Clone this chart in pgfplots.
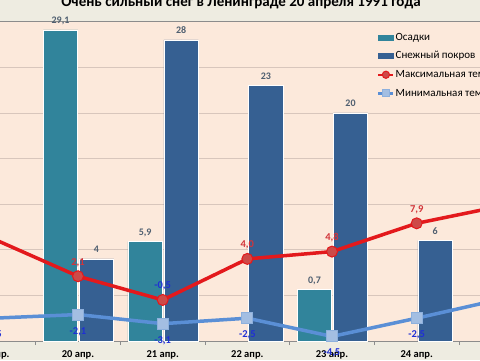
\documentclass[border=0pt]{standalone}
\usepackage{pgfplots}
\pgfplotsset{compat=1.18}
\usepackage{pgfplotstable}
\usepackage{fontspec}
\setmainfont{Carlito}
\definecolor{bgchart}{HTML}{EEECE1}
\definecolor{bgplot}{HTML}{FCE9DB}
\definecolor{gridc}{HTML}{D8C6BC}
\definecolor{axisc}{HTML}{8C8C8C}
\definecolor{osadc}{HTML}{31849B}
\definecolor{snowc}{HTML}{366092}
\definecolor{redline}{HTML}{E3191C}
\definecolor{redmark}{HTML}{CD4A48}
\definecolor{blueline}{HTML}{5A8FD6}
\definecolor{bluemark}{HTML}{A3BEE2}
\definecolor{bluemarkd}{HTML}{8DB0DD}
\definecolor{barlab}{HTML}{4F5F70}
\definecolor{redlab}{HTML}{D2353A}
\definecolor{bluelab}{HTML}{1F2FD6}

\pgfplotsset{
  linelegend/.style={legend image code/.code={\draw[##1, line width=2.5pt, mark size=3.6pt, mark repeat=2, mark phase=2] plot coordinates {(0pt,0pt) (7.5pt,0pt) (15pt,0pt)};}},
  barlegend/.style={legend image code/.code={\fill[#1] (0pt,-2.5pt) rectangle (15pt,2.5pt);}},
  barlabels/.style={forget plot, only marks, mark=*, mark size=0pt,
    mark options={draw=none, fill=none},
    point meta=\thisrow{v},
    nodes near coords={\pgfmathprintnumber[use comma,assume math mode=true]{\pgfplotspointmeta}},
    every node near coord/.append style={font=\bfseries\fontsize{10}{12}\selectfont, color=barlab, anchor=base, yshift=6pt}},
  templabels/.style={point meta=\thisrow{v},
    nodes near coords={\pgfmathfloatparsenumber{\pgfplotspointmeta}\pgfmathfloatgetflagstomacro\pgfmathresult\metaflag\ifnum\metaflag=2 \color{bluelab}\fi\pgfmathprintnumber[use comma,fixed,fixed zerofill,precision=1,assume math mode=true]{\pgfplotspointmeta}}},
}

% x: 0 = 19 апр., 1 = 20 апр., ..., 6 = 25 апр.
\pgfplotstableread{
x v
1 29.1
2 5.9
4 0.7
}\osad
\pgfplotstableread{
x v
1 4
2 28
3 23
4 20
5 6
}\snow
\pgfplotstableread{
x v
0 6.2
1 2.1
2 -0.5
3 4.0
4 4.8
5 7.9
6 9.8
}\tmax
\pgfplotstableread{
x v
0 -2.5
1 -2.1
2 -3.1
3 -2.5
4 -4.5
5 -2.5
6 -0.4
}\tmin

\begin{document}
\begin{tikzpicture}
\fill[bgchart] (0,0) rectangle (480pt,360pt);
\begin{scope}
\clip (0,0) rectangle (480pt,360pt);
\begin{axis}[
  at={(-49pt,19pt)}, anchor=south west,
  scale only axis, width=592.7pt, height=319.3pt,
  xmin=-0.5, xmax=6.5, ymin=0, ymax=35,
  axis background/.style={fill=bgplot},
  axis line style={draw=axisc, line width=0.8pt},
  xtick={0,...,6},
  xticklabels={19 апр.,20 апр.,21 апр.,22 апр.,23 апр.,24 апр.,25 апр.},
  major x tick style={draw=none},
  minor xtick={-0.5,0.5,...,6.5},
  minor x tick style={draw=axisc, line width=0.8pt},
  minor tick length=4pt, tick align=outside, xtick pos=bottom,
  ytick={0,5,...,35}, yticklabels={}, major y tick style={draw=none},
  ymajorgrids, grid style={draw=gridc, line width=0.8pt},
  xticklabel style={font=\bfseries\fontsize{10.5}{12}\selectfont, anchor=base, yshift=-12pt},
  legend cell align=left,
  legend style={at={(0.7187,0.969)}, anchor=north west, draw=none, fill=none,
    font=\fontsize{11}{13}\selectfont, row sep=7.1pt, inner sep=0pt,
    nodes={inner sep=1pt, text height=7.5pt, text depth=2pt}},
]
\addplot[ybar, bar width=34.5pt, bar shift=-17.5pt, fill=osadc, draw=white, line width=0.6pt,
  barlegend=osadc]
  table[x=x, y expr=\thisrow{v}+5] {\osad};
\addlegendentry{Осадки}
\addplot[ybar, bar width=34.5pt, bar shift=18.5pt, fill=snowc, draw=white, line width=0.6pt,
  barlegend=snowc]
  table[x=x, y expr=\thisrow{v}+5] {\snow};
\addlegendentry{Снежный покров}
\addplot[barlabels] table[x expr=\thisrow{x}-0.2067, y expr=\thisrow{v}+5] {\osad};
\addplot[barlabels] table[x expr=\thisrow{x}+0.2185, y expr=\thisrow{v}+5] {\snow};
\addplot[draw=redline, line width=3.5pt, mark=*, mark size=5.5pt,
  mark options={fill=redmark, draw=redline, line width=1pt},
  templabels,
  every node near coord/.append style={font=\bfseries\fontsize{10.5}{12}\selectfont, color=redlab, anchor=base, yshift=11pt},
  linelegend]
  table[x=x, y expr=\thisrow{v}+5] {\tmax};
\addlegendentry{Максимальная температура}
\addplot[draw=blueline, line width=3.5pt, mark=square*, mark size=5.5pt,
  mark options={fill=bluemark, draw=bluemarkd, line width=1pt},
  templabels,
  every node near coord/.append style={font=\bfseries\fontsize{10.5}{12}\selectfont, color=bluelab, anchor=base, yshift=-19.5pt},
  linelegend]
  table[x=x, y expr=\thisrow{v}+5] {\tmin};
\addlegendentry{Минимальная температура}
\end{axis}
\node[font=\bfseries\fontsize{15}{18}\selectfont, anchor=base] at (241pt,354pt)
  {Очень сильный снег в Ленинграде 20 апреля 1991 года};
\end{scope}
\pgfresetboundingbox
\useasboundingbox (0,0) rectangle (480pt,360pt);
\end{tikzpicture}
\end{document}
